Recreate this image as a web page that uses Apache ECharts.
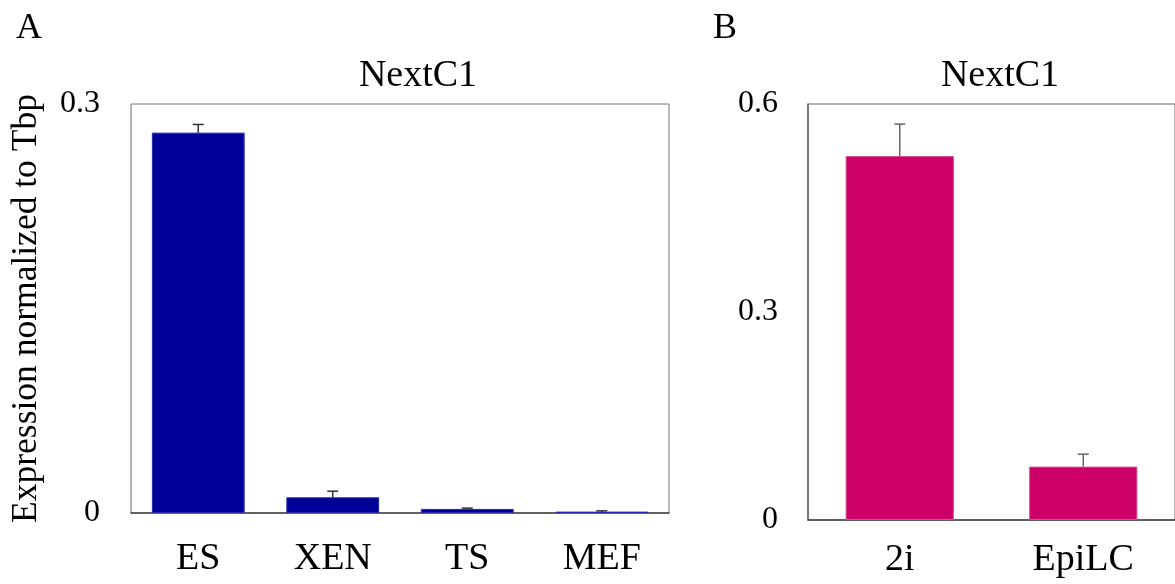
<!DOCTYPE html>
<html>
<head>
<meta charset="utf-8">
<script src="https://cdn.jsdelivr.net/npm/echarts@6/dist/echarts.min.js"></script>
<style>
html,body{margin:0;padding:0;background:#fff;}
#chart{width:1175px;height:584px;}
</style>
</head>
<body>
<div id="chart"></div>
<script>
// Panel A data
var catsA = ['ES', 'XEN', 'TS', 'MEF'];
var valsA = [0.279, 0.0115, 0.003, 0.001];
var errsA = [0.006, 0.0045, 0.0006, 0.0006];
var ticksA = [0, 0.3];
// Panel B data
var catsB = ['2i', 'EpiLC'];
var valsB = [0.525, 0.077];
var errsB = [0.046, 0.018];
var ticksB = [0, 0.3, 0.6];

var FONT = '"Liberation Serif", "DejaVu Serif", serif';

function errSeries(xi, vals, errs, color) {
  var data = vals.map(function (v, i) { return [i, v, errs[i]]; });
  return {
    type: 'custom',
    xAxisIndex: xi, yAxisIndex: xi,
    z: 10,
    encode: { x: 0, y: 1 },
    data: data,
    renderItem: function (params, api) {
      var x = api.value(0), y = api.value(1), e = api.value(2);
      var p0 = api.coord([x, y]);
      var p1 = api.coord([x, y + e]);
      var hw = 5.5;
      var st = { stroke: color, lineWidth: 1.5 };
      return {
        type: 'group',
        children: [
          { type: 'line', shape: { x1: p0[0], y1: p0[1], x2: p1[0], y2: p1[1] }, style: st },
          { type: 'line', shape: { x1: p1[0] - hw, y1: p1[1], x2: p1[0] + hw, y2: p1[1] }, style: st }
        ]
      };
    }
  };
}

var chart = echarts.init(document.getElementById('chart'), null, { renderer: 'canvas' });
chart.setOption({
  backgroundColor: '#fff',
  animation: false,
  textStyle: { fontFamily: FONT },
  title: [
    { text: 'NextC1', left: 413, top: 52, textAlign: 'center',
      textStyle: { fontFamily: FONT, fontSize: 38, fontWeight: 'normal', color: '#000' } },
    { text: 'NextC1', left: 995, top: 52, textAlign: 'center',
      textStyle: { fontFamily: FONT, fontSize: 38, fontWeight: 'normal', color: '#000' } },
    { text: 'A', left: 11, top: 6,
      textStyle: { fontFamily: FONT, fontSize: 36, fontWeight: 'normal', color: '#000' } },
    { text: 'B', left: 708, top: 6,
      textStyle: { fontFamily: FONT, fontSize: 36, fontWeight: 'normal', color: '#000' } }
  ],
  grid: [
    { left: 131, top: 104, width: 538, height: 409, show: true, borderColor: '#777', borderWidth: 1, backgroundColor: 'transparent' },
    { left: 808, top: 104, width: 368, height: 416, show: true, borderColor: '#666', borderWidth: 1, backgroundColor: 'transparent' }
  ],
  xAxis: [
    { type: 'category', gridIndex: 0, data: catsA,
      axisLine: { lineStyle: { color: '#444', width: 1.5 } },
      axisTick: { show: false },
      axisLabel: { fontFamily: FONT, fontSize: 38, color: '#000', margin: 27 } },
    { type: 'category', gridIndex: 1, data: catsB,
      axisLine: { lineStyle: { color: '#444', width: 1.5 } },
      axisTick: { show: false },
      axisLabel: { fontFamily: FONT, fontSize: 38, color: '#000', margin: 21 } }
  ],
  yAxis: [
    { type: 'value', gridIndex: 0, min: ticksA[0], max: ticksA[ticksA.length - 1], interval: 0.3,
      name: 'Expression normalized to Tbp', nameLocation: 'middle', nameRotate: 90, nameGap: 86,
      nameTextStyle: { fontFamily: FONT, fontSize: 35.5, color: '#000' },
      axisLine: { show: true, lineStyle: { color: '#aaa', width: 1 } },
      axisTick: { show: false },
      splitLine: { show: false },
      axisLabel: { fontFamily: FONT, fontSize: 32, color: '#000', margin: 31,
        formatter: function (v) { return String(v); } } },
    { type: 'value', gridIndex: 1, min: ticksB[0], max: ticksB[ticksB.length - 1], interval: 0.3,
      axisLine: { show: true, lineStyle: { color: '#666', width: 1.5 } },
      axisTick: { show: false },
      splitLine: { show: false },
      axisLabel: { fontFamily: FONT, fontSize: 32, color: '#000', margin: 30,
        formatter: function (v) { return String(Math.round(v * 10) / 10); } } }
  ],
  series: [
    { type: 'bar', xAxisIndex: 0, yAxisIndex: 0, data: valsA, barWidth: '69%',
      itemStyle: { color: '#000099', borderColor: '#2626ac', borderWidth: 1 } },
    { type: 'bar', xAxisIndex: 1, yAxisIndex: 1, data: valsB, barWidth: '59%',
      itemStyle: { color: '#cc0066', borderColor: '#dc5096', borderWidth: 1 } },
    errSeries(0, valsA, errsA, '#333'),
    errSeries(1, valsB, errsB, '#666')
  ]
});
</script>
</body>
</html>
